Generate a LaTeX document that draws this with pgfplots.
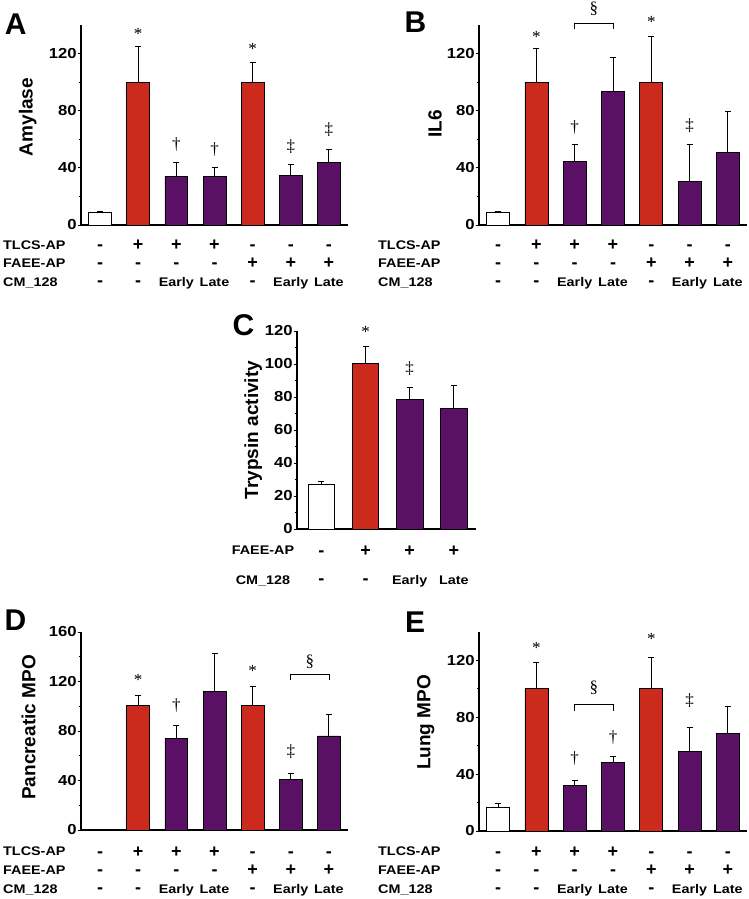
\documentclass[border=0pt]{standalone}
\usepackage{pgfplots}
\pgfplotsset{compat=1.18}
\usepackage{fontspec}
\setmainfont{Liberation Sans}
\newfontfamily\wide[FakeStretch=1.15]{Liberation Sans}
\newfontfamily\symf{Liberation Serif}
\definecolor{cred}{RGB}{205,42,30}
\definecolor{cpur}{RGB}{90,16,100}

\pgfplotsset{
 panel/.style={
  scale only axis, anchor=south west,
  axis lines*=left, axis line style={line width=1.1pt, black},
  xmin=-0.5, xmax=6.5, ymin=0,
  xtick=\empty,
  ytick pos=left, tick align=outside,
  minor y tick num=1,
  major tick length=3.5pt, minor tick length=2pt,
  every tick/.style={black, line width=0.9pt},
  yticklabel style={font=\wide\bfseries\fontsize{14.5}{14.5}\selectfont, inner xsep=0.6pt},
  /pgf/number format/assume math mode=true,
  clip=false,
  bar width=0.6,
  error bars/y dir=plus, error bars/y explicit,
  error bars/error bar style={line width=0.9pt, black},
  error bars/error mark options={rotate=90, mark size=3pt, line width=0.9pt, black},
 },
 wbar/.style={ybar, bar shift=0pt, fill=white, draw=black, line width=0.8pt},
 rbar/.style={ybar, bar shift=0pt, fill=cred, draw=black, line width=0.8pt},
 pbar/.style={ybar, bar shift=0pt, fill=cpur, draw=black, line width=0.8pt},
}
\newcommand{\lf}{\wide\bfseries\fontsize{12.5}{12.5}\selectfont}
\tikzset{
 sg/.style={font=\bfseries\fontsize{18}{18}\selectfont, anchor=base, inner sep=0pt},
 an/.style={font=\symf\fontsize{17}{17}\selectfont, inner sep=0pt, anchor=center},
 rl/.style={font=\lf, inner sep=0pt},
 yl/.style={font=\bfseries\fontsize{19}{19}\selectfont, inner sep=0pt, rotate=90, anchor=base},
 pl/.style={font=\bfseries\fontsize{30}{30}\selectfont, inner sep=0pt, anchor=center},
}

\newcommand{\rowsigns}[8]{%
  \node[sg,yshift=#1] at (axis cs:0,0) {#2};
  \node[sg,yshift=#1] at (axis cs:1,0) {#3};
  \node[sg,yshift=#1] at (axis cs:2,0) {#4};
  \node[sg,yshift=#1] at (axis cs:3,0) {#5};
  \node[sg,yshift=#1] at (axis cs:4,0) {#6};
  \node[sg,yshift=#1] at (axis cs:5,0) {#7};
  \node[sg,yshift=#1] at (axis cs:6,0) {#8};
}
% #1 extra offset
\newcommand{\allrows}[1]{%
  \rowsigns{-25.5pt-#1}{-}{+}{+}{+}{-}{-}{-}
  \rowsigns{-43.5pt-#1}{-}{-}{-}{-}{+}{+}{+}
  \rowsigns{-61.5pt-#1}{-}{-}{\lf Early}{\lf Late}{-}{\lf Early}{\lf Late}
}

\begin{document}
\begin{tikzpicture}[x=1pt,y=1pt]
\useasboundingbox (0,0) rectangle (749,899);

% ---------------- A ----------------
\begin{axis}[panel, at={(81pt,674pt)}, width=267pt, height=200pt, ymax=140, ytick={0,40,80,120}]
\addplot[wbar] coordinates {(0,8.7) +- (0,0.8)};
\addplot[rbar] coordinates {(1,100) +- (0,25) (4,100) +- (0,13.6)};
\addplot[pbar] coordinates {(2,34.2) +- (0,9.3) (3,34.2) +- (0,6.2) (5,34.8) +- (0,7.9) (6,43.6) +- (0,9.4)};
\node[an,yshift=-3pt] at (axis cs:1,136) {*};
\node[an] at (axis cs:2,56) {†};
\node[an] at (axis cs:3,52.6) {†};
\node[an,yshift=-3pt] at (axis cs:4,125.6) {*};
\node[an] at (axis cs:5,55) {‡};
\node[an] at (axis cs:6,66.7) {‡};
\allrows{0pt}
\end{axis}

% ---------------- B ----------------
\begin{axis}[panel, at={(479pt,674pt)}, width=268pt, height=200pt, ymax=140, ytick={0,40,80,120}]
\addplot[wbar] coordinates {(0,8.6) +- (0,0.7)};
\addplot[rbar] coordinates {(1,100) +- (0,23.3) (4,100) +- (0,32)};
\addplot[pbar] coordinates {(2,44.5) +- (0,12.2) (3,93.7) +- (0,23.3) (5,30.7) +- (0,26) (6,50.9) +- (0,28.8)};
\node[an,yshift=-3pt] at (axis cs:1,134) {*};
\node[an] at (axis cs:2,68) {†};
\node[an,yshift=-3pt] at (axis cs:4,144) {*};
\node[an] at (axis cs:5,69.6) {‡};
\draw[line width=0.8pt] (axis cs:2,137) -- (axis cs:2,141.2) -- (axis cs:3,141.2) -- (axis cs:3,137);
\node[an] at (axis cs:2.5,151) {§};
\allrows{0pt}
\end{axis}

% ---------------- C ----------------
\begin{axis}[panel, at={(297pt,370pt)}, width=179pt, height=198pt, xmin=-0.55, xmax=3.5, ymax=120, ytick={0,20,...,120}]
\addplot[wbar] coordinates {(0,27) +- (0,2)};
\addplot[rbar] coordinates {(1,100.5) +- (0,10.3)};
\addplot[pbar] coordinates {(2,78.6) +- (0,7.4) (3,73) +- (0,13.7)};
\node[an,yshift=-3pt] at (axis cs:1,121) {*};
\node[an] at (axis cs:2,97) {‡};
\node[sg,yshift=-28pt] at (axis cs:0,0) {-};
\node[sg,yshift=-28pt] at (axis cs:1,0) {+};
\node[sg,yshift=-28pt] at (axis cs:2,0) {+};
\node[sg,yshift=-28pt] at (axis cs:3,0) {+};
\node[sg,yshift=-55.5pt] at (axis cs:0,0) {-};
\node[sg,yshift=-55.5pt] at (axis cs:1,0) {-};
\node[sg,yshift=-55.5pt] at (axis cs:2,0) {\lf Early};
\node[sg,yshift=-55.5pt] at (axis cs:3,0) {\lf Late};
\end{axis}

% ---------------- D ----------------
\begin{axis}[panel, at={(81pt,69pt)}, width=267pt, height=198pt, ymax=160, ytick={0,40,...,160}]
\addplot[rbar] coordinates {(1,100.4) +- (0,8.6) (4,100.4) +- (0,15.6)};
\addplot[pbar] coordinates {(2,74.2) +- (0,10.5) (3,112) +- (0,31) (5,40.5) +- (0,4.8) (6,76) +- (0,17)};
\node[an,yshift=-3pt] at (axis cs:1,124) {*};
\node[an] at (axis cs:2,100.6) {†};
\node[an,yshift=-3pt] at (axis cs:4,131) {*};
\node[an] at (axis cs:5,63.4) {‡};
\draw[line width=0.8pt] (axis cs:5,121.2) -- (axis cs:5,126) -- (axis cs:6,126) -- (axis cs:6,121.2);
\node[an] at (axis cs:5.5,136) {§};
\allrows{1.5pt}
\end{axis}

% ---------------- E ----------------
\begin{axis}[panel, at={(479pt,68pt)}, width=268pt, height=199pt, ymax=140, ytick={0,40,80,120}]
\addplot[wbar] coordinates {(0,16.9) +- (0,2.3)};
\addplot[rbar] coordinates {(1,100) +- (0,18.8) (4,100) +- (0,22.3)};
\addplot[pbar] coordinates {(2,32.1) +- (0,3.5) (3,48.5) +- (0,4.2) (5,56) +- (0,17) (6,68.4) +- (0,19.2)};
\node[an,yshift=-3pt] at (axis cs:1,131) {*};
\node[an,yshift=-3pt] at (axis cs:4,137) {*};
\node[an] at (axis cs:2,50.9) {†};
\node[an] at (axis cs:3,66) {†};
\node[an] at (axis cs:5,91.9) {‡};
\draw[line width=0.8pt] (axis cs:2,84.4) -- (axis cs:2,88.8) -- (axis cs:3,88.8) -- (axis cs:3,84.4);
\node[an] at (axis cs:2.5,100.5) {§};
\allrows{1pt}
\end{axis}

% ---------------- labels ----------------
\node[pl] at (15.8,875) {A};
\node[pl] at (415.5,876.5) {B};
\node[pl] at (243.5,574) {C};
\node[pl] at (15.5,279) {D};
\node[pl] at (415,276.5) {E};

\node[yl] at (32.5,782) {Amylase};
\node[yl] at (441.7,775) {IL6};
\node[yl] at (258,469) {Trypsin activity};
\node[yl] at (35.3,171.5) {Pancreatic MPO};
\node[yl] at (430.3,176.5) {Lung MPO};

\node[rl,anchor=base west] at (3,649.7) {TLCS-AP};
\node[rl,anchor=base west] at (3,631.3) {FAEE-AP};
\node[rl,anchor=base west] at (3,612.3) {CM\_128};
\node[rl,anchor=base west] at (378,649.7) {TLCS-AP};
\node[rl,anchor=base west] at (378,631.3) {FAEE-AP};
\node[rl,anchor=base west] at (378,612.3) {CM\_128};
\node[rl,anchor=base] at (263,344) {FAEE-AP};
\node[rl,anchor=base] at (263,314) {CM\_128};
\node[rl,anchor=base west] at (3,43) {TLCS-AP};
\node[rl,anchor=base west] at (3,24) {FAEE-AP};
\node[rl,anchor=base west] at (3,5.7) {CM\_128};
\node[rl,anchor=base west] at (378,43) {TLCS-AP};
\node[rl,anchor=base west] at (378,24) {FAEE-AP};
\node[rl,anchor=base west] at (378,5.7) {CM\_128};
\end{tikzpicture}
\end{document}
